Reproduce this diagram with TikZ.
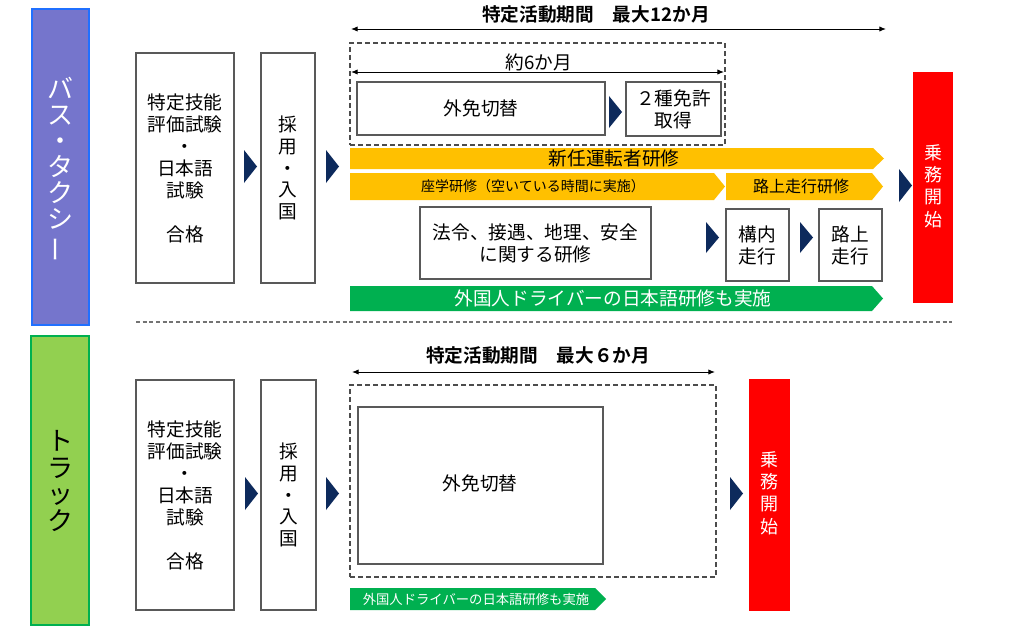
\documentclass[tikz,border=0pt]{standalone}
\usepackage{fontspec}
\setmainfont{Noto Sans CJK JP}[BoldFont={Noto Sans CJK JP Bold}]
\usetikzlibrary{fit,arrows.meta}
\definecolor{navy}{HTML}{0D2A5C}
\definecolor{busfill}{HTML}{7575CC}
\definecolor{busline}{HTML}{2070FF}
\definecolor{trkfill}{HTML}{92D050}
\definecolor{trkline}{HTML}{00B050}
\definecolor{yellowbar}{HTML}{FFC000}
\definecolor{greenbar}{HTML}{00B050}
\definecolor{boxline}{HTML}{595959}
\definecolor{redbar}{HTML}{FF0000}
\newcommand\fsM{\fontsize{14pt}{16.5pt}\selectfont}
\newcommand\tri[3]{\fill[navy] (#1,#2) -- (#1+13,#2+#3/2) -- (#1,#2+#3) -- cycle;}
\newcommand\chev[5]{\fill[#5] (#1,#2) -- (#3-11,#2) -- (#3,{(#2+#4)/2}) -- (#3-11,#4) -- (#1,#4) -- cycle;}
\newcommand\vbar{\rotatebox[origin=c]{90}{ー}}
\tikzset{
  box/.style={draw=boxline, line width=1.1pt, fill=white, inner sep=0pt, align=center, font=\fsM},
  dbox/.style={draw=black!70, line width=1pt, dash pattern=on 3.5pt off 2.5pt, inner sep=0pt},
  redcol/.style={fill=redbar, inner sep=0pt, align=center, text=white, font=\fontsize{13.5pt}{17pt}\selectfont},
  dim/.style={draw=black, line width=0.7pt, {Latex[length=5pt,width=4pt]}-{Latex[length=5pt,width=4pt]}},
  lbl/.style={inner sep=0pt, align=center},
  title/.style={inner sep=0pt, font=\bfseries\fontsize{14pt}{16pt}\selectfont},
}
\begin{document}
\begin{tikzpicture}[x=0.75pt,y=-0.75pt]
\useasboundingbox (0,0) rectangle (1024,635);
\fill[white] (0,0) rectangle (1024,635);

% ---------- side labels ----------
\node[draw=busline, fill=busfill, line width=1.5pt, inner sep=0pt, fit={(32,9) (89,325)}] (busbar) {};
\node[lbl, text=white, font=\fontsize{19.5pt}{19.5pt}\selectfont] (buslbl) at (60,170) {バ\\ス\\・\\タ\\ク\\シ\\\vbar};
\node[draw=trkline, fill=trkfill, line width=1.5pt, inner sep=0pt, fit={(31,336) (89,625)}] (trkbar) {};
\node[lbl, text=black, font=\fontsize{19.5pt}{20pt}\selectfont] (trklbl) at (60,481) {ト\\ラ\\ッ\\ク};

% ---------- bus / taxi ----------
\node[box, fit={(136,53) (234,283)}] (b1) {};
\node[lbl, font=\fsM] (b1t) at (b1.center) {特定技能\\評価試験\\・\\日本語\\試験\\[16.5pt]合格};
\node[box, fit={(261,53) (315,283)}] (b2) {};
\node[lbl, font=\fontsize{14pt}{16.2pt}\selectfont] (b2t) at (b2.center) {採\\用\\・\\入\\国};
\tri{244}{150}{33}
\tri{326}{150}{33}

\node[title] (title1) at (596,14) {特定活動期間　最大12か月};
\coordinate (a1l) at (351,29); \coordinate (a1r) at (886,29);
\draw[dim] (a1l) -- (a1r);

\node[dbox, fit={(350,43) (725,145)}] (d1) {};
\node[lbl, font=\fsM] (six) at (539,62) {約6か月};
\coordinate (a2l) at (351,72); \coordinate (a2r) at (724,72);
\draw[dim] (a2l) -- (a2r);

\node[box, fit={(357,82) (605,135)}] (gm1) {};
\node[lbl, font=\fsM] at (gm1.center) {外免切替};
\tri{609}{96}{32}
\node[box, fit={(626,82) (721,136)}] (nishu) {};
\node[lbl, font=\fsM] at (nishu.center) {２種免許\\取得};

\chev{350}{148}{884}{169}{yellowbar}
\node[lbl, font=\fsM] (c1) at (614,158.5) {新任運転者研修};
\chev{350}{173}{725}{200}{yellowbar}
\node[lbl, font=\fontsize{10.5pt}{12pt}\selectfont] (c2) at (533,186.5) {座学研修（空いている時間に実施）};
\chev{726}{173}{883}{200}{yellowbar}
\node[lbl, font=\fontsize{12pt}{14pt}\selectfont] (c3) at (801,186.5) {路上走行研修};

\node[box, fit={(420,207) (651,279)}] (hourei) {};
\node[lbl, font=\fsM] at (hourei.center) {法令、接遇、地理、安全\\に関する研修};
\tri{706}{222}{31}
\node[box, fit={(726,209) (789,281)}] (kounai) {};
\node[lbl, font=\fsM] at (kounai.center) {構内\\走行};
\tri{800}{222}{31}
\node[box, fit={(819,209) (882,281)}] (rojo) {};
\node[lbl, font=\fsM] at (rojo.center) {路上\\走行};

\chev{350}{286}{883}{311}{greenbar}
\node[lbl, text=white, font=\fsM] (c4) at (613,298.5) {外国人ドライバーの日本語研修も実施};

\tri{899}{169}{33}
\node[redcol, fit={(913,72) (953,303)}] (red1) {};
\node[lbl, text=white, font=\fontsize{13.5pt}{16.8pt}\selectfont] at (933,186) {乗\\務\\開\\始};

% ---------- separator ----------
\coordinate (s1) at (136,322); \coordinate (s2) at (952,322);
\draw[black!55, line width=1pt, dash pattern=on 3pt off 2pt] (s1) -- (s2);

% ---------- truck ----------
\node[box, fit={(136,380) (234,610)}] (tb1) {};
\node[lbl, font=\fsM] at (tb1.center) {特定技能\\評価試験\\・\\日本語\\試験\\[16.5pt]合格};
\node[box, fit={(261,380) (316,610)}] (tb2) {};
\node[lbl, font=\fontsize{14pt}{16.2pt}\selectfont] at (tb2.center) {採\\用\\・\\入\\国};
\tri{245}{477}{33}
\tri{326}{477}{33}

\node[title] (title2) at (538,355) {特定活動期間　最大６か月};
\coordinate (a3l) at (352,372); \coordinate (a3r) at (715,372);
\draw[dim] (a3l) -- (a3r);

\node[dbox, fit={(350,385) (716,577)}] (d2) {};
\node[box, fit={(358,407) (603,564)}] (gm2) {};
\node[lbl, font=\fsM] at (480,483) {外免切替};

\chev{350}{588}{606}{610}{greenbar}
\node[lbl, text=white, font=\fontsize{10pt}{12pt}\selectfont] (c5) at (476,599) {外国人ドライバーの日本語研修も実施};

\tri{730}{477}{33}
\node[redcol, fit={(749,379) (790,611)}] (red2) {};
\node[lbl, text=white, font=\fontsize{13.5pt}{16.8pt}\selectfont] at (769.5,493) {乗\\務\\開\\始};
\end{tikzpicture}
\end{document}
